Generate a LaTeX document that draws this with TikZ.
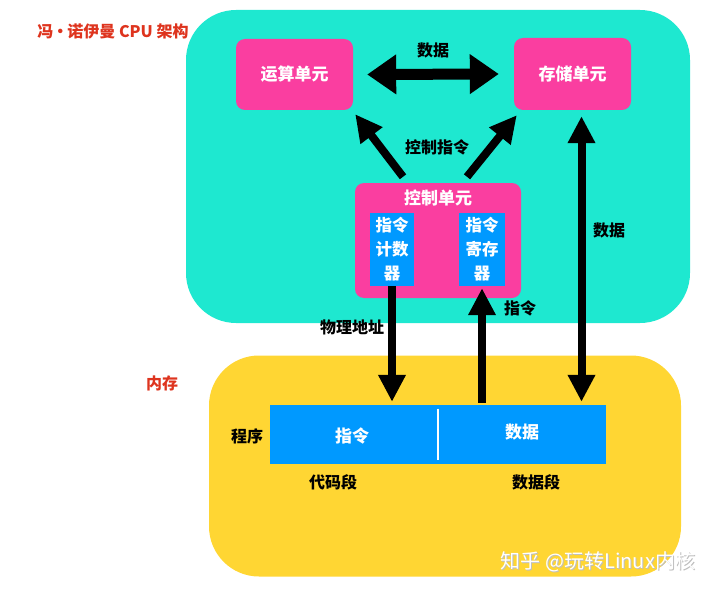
\documentclass[tikz,border=0pt]{standalone}
\usepackage{fontspec}
\usepackage{tikz}
\usepackage{xcolor}
\usetikzlibrary{arrows.meta}
\setmainfont{Noto Sans CJK SC}
\definecolor{cpu-teal}{RGB}{30,232,208}
\definecolor{unit-pink}{RGB}{250,62,160}
\definecolor{reg-blue}{RGB}{0,153,255}
\definecolor{mem-yellow}{RGB}{255,214,51}
\definecolor{title-red}{RGB}{222,52,30}
\tikzset{
    region-box/.style = {rectangle, rounded corners=50pt, inner sep=0pt},
    unit-box/.style = {fill=unit-pink, rectangle, rounded corners=9pt, inner sep=0pt, text=white, font=\fontsize{17}{20}\selectfont\bfseries},
    reg-box/.style = {fill=reg-blue, rectangle, inner sep=0pt, text=white, align=center, font=\fontsize{16.5}{24}\selectfont\bfseries},
    label-text/.style = {font=\fontsize{16}{19}\selectfont\bfseries},
    red-title/.style = {text=title-red, font=\fontsize{16}{19}\selectfont\bfseries},
    big-arrow/.style = {line width=8pt, -{Triangle[width=26pt,length=27pt]}},
    both-arrow/.style = {line width=8pt, {Triangle[width=26pt,length=27pt]}-{Triangle[width=26pt,length=27pt]}},
    wide-arrow/.style = {line width=11pt, {Triangle[width=38pt,length=29pt]}-{Triangle[width=38pt,length=29pt]}},
}

\begin{document}
\begin{tikzpicture}[x=1pt,y=-1pt]
\useasboundingbox (0,0) rectangle (720,591);
% regions
\node [region-box, fill=cpu-teal, minimum width=504pt, minimum height=313pt] (cpu) at (438,166.5) {};
\node [region-box, fill=mem-yellow, minimum width=472pt, minimum height=221pt] (ram) at (445,466) {};
\node [red-title] (title) at (113,31) {冯\hspace{-1pt}·\hspace{-1pt}诺伊曼 CPU 架构};
\node [red-title] (ramlabel) at (162,383) {内存};

% units
\node [unit-box, minimum width=117pt, minimum height=71pt] (alu) at (294.5,74.5) {运算单元};
\node [unit-box, minimum width=117pt, minimum height=72pt] (mem) at (572.5,74) {存储单元};
\node [unit-box, minimum width=166pt, minimum height=115pt] (ctrl) at (438,240.5) {};
\node [text=white, font=\fontsize{17}{20}\selectfont\bfseries] (ctrltitle) at (438,198) {控制单元};
\node [reg-box, minimum width=44pt, minimum height=73pt] (pc) at (392,249.5) {指令\\计数\\器};
\node [reg-box, minimum width=46pt, minimum height=73pt] (ir) at (482,249.5) {指令\\寄存\\器};

% program in memory
\node [fill=reg-blue, minimum width=336pt, minimum height=59pt, inner sep=0pt] (prog) at (438,434.5) {};
\draw [white, line width=1.2pt] ([yshift=-4pt]prog.north) -- ([yshift=4pt]prog.south);
\node [text=white, font=\fontsize{17}{20}\selectfont\bfseries] (code) at (352,436) {指令};
\node [text=white, font=\fontsize{17}{20}\selectfont\bfseries] (data) at (522,432) {数据};
\node [label-text] (proglabel) at (247,436) {程序};
\node [label-text] (codeseg) at (333,482) {代码段};
\node [label-text] (dataseg) at (536,482) {数据段};

% connectors
\draw [wide-arrow] ([xshift=14pt]alu.east) -- ([xshift=-15pt]mem.east -| mem.west);
\node [label-text] (datalabel) at (433,50) {数据};
\draw [big-arrow] ([xshift=-35pt,yshift=6pt]ctrl.north) -- ([xshift=2pt,yshift=-4pt]alu.south east);
\draw [big-arrow] ([xshift=29pt,yshift=6pt]ctrl.north) -- ([xshift=3pt,yshift=-5pt]mem.south west);
\node [label-text] (cmdlabel) at (437,147) {控制指令};
\coordinate (memport) at ([xshift=9pt]mem.south);
\draw [both-arrow] ([yshift=-6pt]memport) -- ([yshift=3pt]memport |- prog.north);
\node [label-text] (buslabel) at (609,230) {数据};
\draw [big-arrow] (pc.south) -- ([yshift=3pt]pc.south |- prog.north);
\node [label-text] (addrlabel) at (352,327) {物理地址};
\draw [big-arrow] ([yshift=2pt]ir.south |- prog.north) -- ([yshift=-2pt]ir.south);
\node [label-text] (instlabel) at (520,308) {指令};

% watermark
\node [text=black!25, font=\fontsize{20}{24}\selectfont] at (599,563) {知乎 @玩转Linux内核};
\node [text=white, font=\fontsize{20}{24}\selectfont] (mark) at (598,562) {知乎 @玩转Linux内核};
\end{tikzpicture}
\end{document}
